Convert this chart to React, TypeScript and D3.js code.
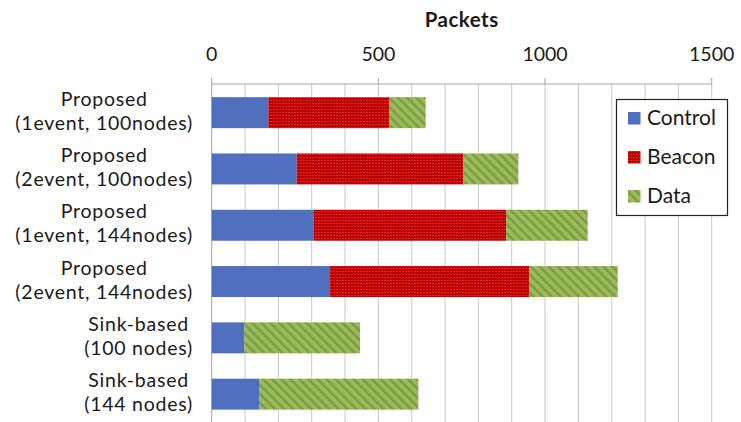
import React from 'react';
import * as d3 from 'd3';

// Category labels (two lines each)
const categoryLines: string[][] = [
  ['Proposed', '(1event, 100nodes)'],
  ['Proposed', '(2event, 100nodes)'],
  ['Proposed', '(1event, 144nodes)'],
  ['Proposed', '(2event, 144nodes)'],
  ['Sink-based', '(100 nodes)'],
  ['Sink-based', '(144 nodes)'],
];

// Packet counts per series
const controlPackets = [170, 255, 305, 355, 98, 142];
const beaconPackets = [362, 500, 578, 597, 0, 0];
const dataPackets = [110, 165, 245, 266, 347, 478];

const seriesNames = ['Control', 'Beacon', 'Data'];
const xTickValues = [0, 500, 1000, 1500];
const xGridValues = d3.range(0, 1501, 100);

const W = 741;
const H = 422;
const FONT = "Lato, 'Open Sans', sans-serif";

const fills: Record<string, string> = {
  Control: '#4f6fbf',
  Beacon: 'url(#beaconPat)',
  Data: 'url(#dataPat)',
};

function measure(text: string, font: string, spacing: number): number {
  const c = document.createElement('canvas').getContext('2d');
  if (!c) return text.length * 9;
  c.font = font;
  return c.measureText(text).width + spacing * text.length;
}

export default function App() {
  const x = d3.scaleLinear().domain([0, 1500]).range([211.7, 711.7]);
  const ids = categoryLines.map((_, i) => `c${i}`);
  const y = d3
    .scaleBand<string>()
    .domain(ids)
    .range([84.5, 422.3])
    .paddingInner(0.45)
    .paddingOuter(0.225);

  const rows = ids.map((id, i) => ({
    id,
    Control: controlPackets[i],
    Beacon: beaconPackets[i],
    Data: dataPackets[i],
  }));
  const stacked = d3.stack<any>().keys(seriesNames)(rows);

  const axisY = 84;
  const labelFontSize = 19.5;
  const labelSpacing = 0.75;
  const labelFont = `${labelFontSize}px Lato`;
  const labelRight = 193;

  return (
    <svg
      width={W}
      height={H}
      style={{ position: 'absolute', left: 0, top: 0, background: '#fff' }}
      fontFamily={FONT}
    >
      <defs>
        <pattern id="beaconPat" width={6} height={3} patternUnits="userSpaceOnUse">
          <rect width={6} height={3} fill="#c00000" />
          <line x1={0} y1={1.5} x2={6} y2={1.5} stroke="#d63a3a" strokeWidth={0.8} strokeDasharray="2 1" />
        </pattern>
        <pattern
          id="dataPat"
          width={6.4}
          height={6.4}
          patternUnits="userSpaceOnUse"
          patternTransform="rotate(-45)"
        >
          <rect width={6.4} height={6.4} fill="#9bbb59" />
          <rect width={2.4} height={6.4} fill="#7b9a45" />
        </pattern>
      </defs>

      {/* vertical gridlines */}
      {xGridValues.map((v) => (
        <line
          key={`g${v}`}
          x1={x(v)}
          x2={x(v)}
          y1={axisY}
          y2={H}
          stroke={v === 0 ? '#a6a6a6' : '#c8c8c8'}
          strokeWidth={1}
        />
      ))}

      {/* top axis line and major tick marks */}
      <line x1={x(0)} x2={x(1500)} y1={axisY} y2={axisY} stroke="#a6a6a6" strokeWidth={1} />
      {xTickValues.map((v) => (
        <line key={`t${v}`} x1={x(v)} x2={x(v)} y1={axisY - 6} y2={axisY} stroke="#a6a6a6" strokeWidth={1} />
      ))}
      {xTickValues.map((v) => (
        <text key={`tl${v}`} x={x(v)} y={61} textAnchor="middle" fontSize={19.5} fill="#1a1a1a">
          {v}
        </text>
      ))}

      {/* axis title */}
      <text
        x={(x(0) + x(1500)) / 2}
        y={27}
        textAnchor="middle"
        fontSize={20.5}
        fontWeight="bold"
        letterSpacing={0.5}
        fill="#1a1a1a"
      >
        Packets
      </text>

      {/* stacked bars */}
      {stacked.map((layer) => (
        <g key={layer.key} fill={fills[layer.key]}>
          {layer.map((d, i) =>
            d[1] - d[0] > 0 ? (
              <rect
                key={i}
                x={x(d[0])}
                y={y(ids[i])}
                width={x(d[1]) - x(d[0])}
                height={y.bandwidth()}
              />
            ) : null
          )}
        </g>
      ))}

      {/* category labels */}
      {categoryLines.map((lines, i) => {
        const cy = (y(ids[i]) as number) + y.bandwidth() / 2;
        const blockW = Math.max(...lines.map((l) => measure(l, labelFont, labelSpacing)));
        const cx = labelRight - blockW / 2;
        return (
          <text
            key={`cl${i}`}
            textAnchor="middle"
            fontSize={labelFontSize}
            letterSpacing={labelSpacing}
            fill="#1a1a1a"
          >
            {lines.map((l, j) => (
              <tspan key={j} x={cx} y={cy - 7 + j * 24}>
                {l}
              </tspan>
            ))}
          </text>
        );
      })}

      {/* legend */}
      <g>
        <rect x={616.5} y={99.5} width={111} height={116} fill="#fff" stroke="#222" strokeWidth={1.2} />
        {seriesNames.map((name, i) => {
          const base = 125 + i * 39;
          return (
            <g key={name}>
              <rect x={628} y={base - 13} width={12.5} height={12.5} fill={fills[name]} />
              <text x={647} y={base} fontSize={21} fill="#1a1a1a">
                {name}
              </text>
            </g>
          );
        })}
      </g>
    </svg>
  );
}
